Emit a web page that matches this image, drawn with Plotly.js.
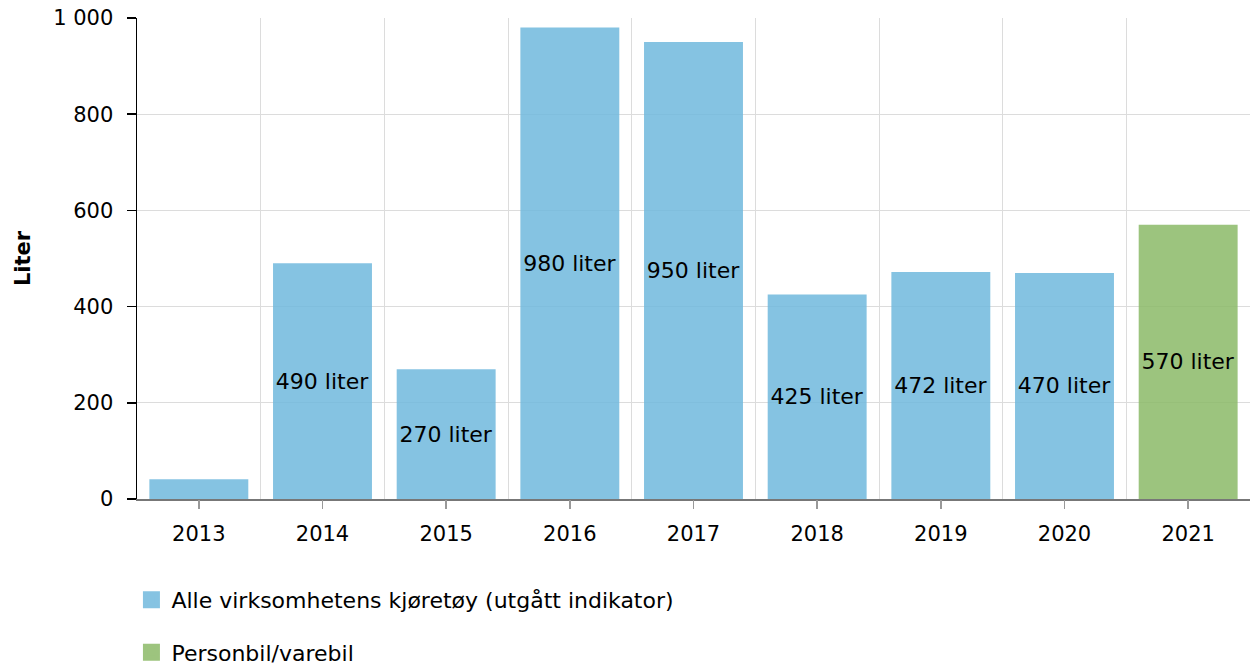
<!DOCTYPE html>
<html>
<head>
<meta charset="utf-8">
<script src="https://cdn.plot.ly/plotly-3.0.1.min.js"></script>
<style>html,body{margin:0;padding:0;background:#fff;}#chart{width:1254px;height:670px;}</style>
</head>
<body>
<div id="chart"></div>
<script>
// Data
const years = ["2013","2014","2015","2016","2017","2018","2019","2020","2021"];
const seriesAllYears = ["2013","2014","2015","2016","2017","2018","2019","2020"];
const seriesAllValues = [41, 490, 270, 980, 950, 425, 472, 470];
const seriesAllLabels = ["", "490 liter", "270 liter", "980 liter", "950 liter", "425 liter", "472 liter", "470 liter"];
const seriesCarYears = ["2021"];
const seriesCarValues = [570];
const seriesCarLabels = ["570 liter"];
const seriesNames = ["Alle virksomhetens kjøretøy (utgått indikator)", "Personbil/varebil"];
const yTitle = "Liter";

const FONT = "DejaVu Sans, Verdana, sans-serif";
const FS = 21;
const FS_TXT = 22;

const traces = [
  {
    type: "bar", name: seriesNames[0], x: seriesAllYears, y: seriesAllValues,
    text: seriesAllLabels, textposition: "inside", insidetextanchor: "middle", textangle: 0,
    textfont: {family: FONT, size: FS_TXT, color: "#000"}, constraintext: "none",
    marker: {color: "rgba(112,184,221,0.85)", line: {width: 0}},
    showlegend: false, hoverinfo: "x+y", xaxis: "x", yaxis: "y"
  },
  {
    type: "bar", name: seriesNames[1], x: seriesCarYears, y: seriesCarValues,
    text: seriesCarLabels, textposition: "inside", insidetextanchor: "middle", textangle: 0,
    textfont: {family: FONT, size: FS_TXT, color: "#000"}, constraintext: "none",
    marker: {color: "rgba(139,186,103,0.85)", line: {width: 0}},
    showlegend: false, hoverinfo: "x+y", xaxis: "x", yaxis: "y"
  },
  // legend entries (no drawn bars)
  {
    type: "bar", name: seriesNames[0], x: [seriesAllYears[0]], y: [null],
    marker: {color: "rgb(134,195,226)", line: {width: 16, color: "rgb(134,195,226)"}},
    legendgroup: "a", showlegend: true, hoverinfo: "skip", xaxis: "x", yaxis: "y"
  },
  {
    type: "bar", name: seriesNames[1], x: [seriesCarYears[0]], y: [null],
    marker: {color: "rgb(157,196,126)", line: {width: 16, color: "rgb(157,196,126)"}},
    legendgroup: "b", showlegend: true, hoverinfo: "skip", xaxis: "x", yaxis: "y"
  }
];

const layout = {
  width: 1254, height: 670,
  margin: {l: 137, r: 4, t: 18, b: 171, autoexpand: false},
  paper_bgcolor: "#fff", plot_bgcolor: "#fff",
  font: {family: FONT, size: FS, color: "#000"},
  separators: ", ",
  barmode: "overlay", bargap: 0.2,
  showlegend: true,
  legend: {
    orientation: "v", x: -0.005, xanchor: "left",
    yref: "container", y: 0.136, yanchor: "top",
    font: {family: FONT, size: FS_TXT, color: "#000"}, tracegroupgap: 21,
    traceorder: "grouped"
  },
  xaxis: {
    type: "category", categoryorder: "array", categoryarray: years,
    range: [-0.5, 8.5], tickson: "boundaries", ticks: "", showticklabels: false,
    showgrid: true, gridcolor: "#dcdcdc", gridwidth: 1,
    showline: true, linecolor: "#777", linewidth: 1.5, zeroline: false, fixedrange: true
  },
  xaxis2: {
    overlaying: "x", anchor: "y", side: "bottom",
    range: [-0.5, 8.5], tickmode: "array",
    tickvals: years.map((_, i) => i), ticktext: years,
    ticks: "outside", ticklen: 9, tickcolor: "#999", tickwidth: 1.5,
    ticklabelstandoff: 7,
    showgrid: false, zeroline: false, showline: false,
    tickfont: {family: FONT, size: FS, color: "#000"}
  },
  yaxis: {
    range: [0, 1000], tickvals: [0, 200, 400, 600, 800, 1000], tickformat: ",d",
    ticks: "outside", ticklen: 9, tickcolor: "#000", tickwidth: 1.5,
    ticklabelstandoff: 9,
    showline: true, linecolor: "#000", linewidth: 1.5,
    showgrid: true, gridcolor: "#dcdcdc", gridwidth: 1, zeroline: false,
    tickfont: {family: FONT, size: FS, color: "#000"},
    title: {text: yTitle, font: {family: FONT, size: FS, color: "#000", weight: "bold"}, standoff: 17}
  }
};

// invisible trace to draw the center tick axis
traces.push({type: "scatter", x: [0], y: [0], xaxis: "x2", yaxis: "y", mode: "markers",
  marker: {opacity: 0}, showlegend: false, hoverinfo: "skip"});

Plotly.newPlot("chart", traces, layout, {displayModeBar: false, staticPlot: true});
</script>
</body>
</html>
